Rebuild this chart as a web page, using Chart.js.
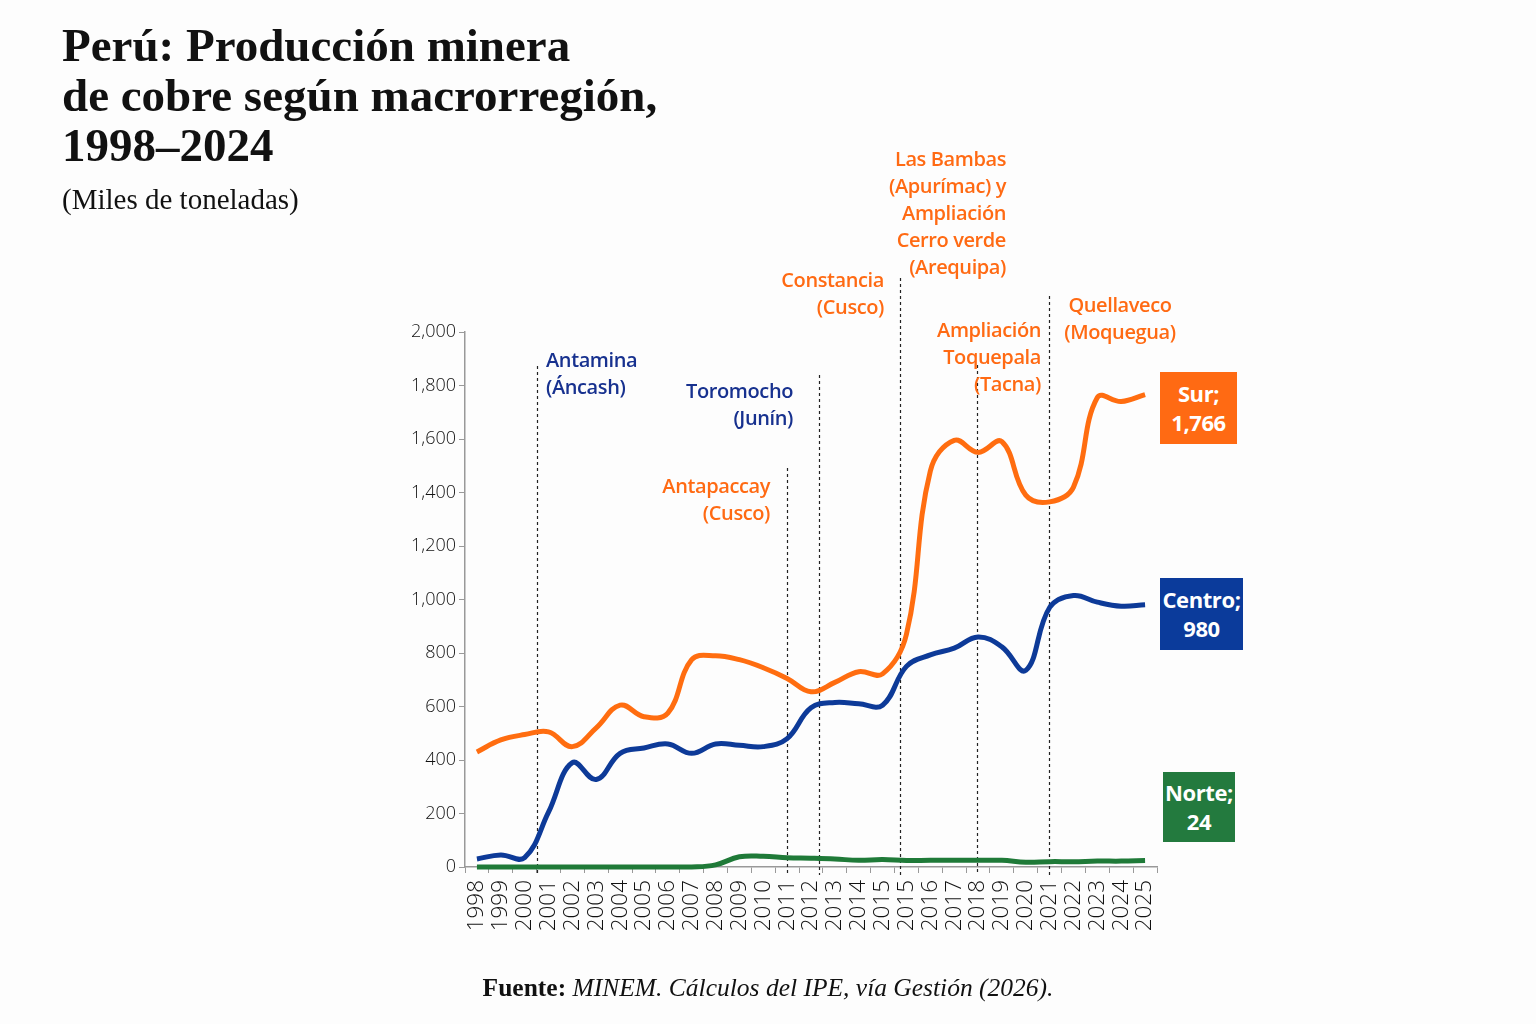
<!DOCTYPE html>
<html>

<head>
    <title>Perú: Producción minera de cobre según macrorregión</title>
    <meta charset="utf-8">
    <script src="https://cdn.jsdelivr.net/npm/chart.js@4.4.1/dist/chart.umd.min.js"></script>
    <style>
        html, body { margin: 0; padding: 0; background: #fdfdfd; }
        #page { position: relative; width: 1536px; height: 1024px; overflow: hidden; }
        #chart { position: absolute; left: 0; top: 0; }
        .title { position: absolute; left: 62px; top: 20px; font-family: "Liberation Serif", serif; font-weight: bold; font-size: 47px; line-height: 50px; color: #111; }
        .subtitle { position: absolute; left: 62px; top: 183px; font-family: "Liberation Serif", serif; font-size: 29px; color: #111; }
        .source { position: absolute; left: 0; width: 1536px; top: 973px; text-align: center; font-family: "Liberation Serif", serif; font-size: 25.5px; color: #111; }
        .note { position: absolute; font-family: "Open Sans", sans-serif; font-weight: 600; font-size: 20px; line-height: 27px; white-space: nowrap; letter-spacing: -0.4px; }
        .orange { color: #ff6a13; }
        .blue { color: #17318f; }
        .tag { position: absolute; color: #fff; font-family: "Open Sans", sans-serif; font-weight: 700; font-size: 22px; line-height: 29px; text-align: center; display: flex; align-items: center; justify-content: center; letter-spacing: -0.4px; }
    </style>
</head>

<body>
    <div id="page">
        <canvas id="chart" width="1536" height="1024"></canvas>

        <div class="title">Perú: Producción minera<br>de cobre según macrorregión,<br>1998–2024</div>
        <div class="subtitle">(Miles de toneladas)</div>

        <div class="note blue" style="left:546px; top:346px;">Antamina<br>(Áncash)</div>
        <div class="note blue" style="right:743px; top:377px; text-align:right;">Toromocho<br>(Junín)</div>
        <div class="note orange" style="right:766px; top:472px; text-align:right;">Antapaccay<br>(Cusco)</div>
        <div class="note orange" style="right:652px; top:266px; text-align:right;">Constancia<br>(Cusco)</div>
        <div class="note orange" style="right:530px; top:145px; text-align:right;">Las Bambas<br>(Apurímac) y<br>Ampliación<br>Cerro verde<br>(Arequipa)</div>
        <div class="note orange" style="right:495px; top:316px; text-align:right;">Ampliación<br>Toquepala<br>(Tacna)</div>
        <div class="note orange" style="left:1060px; width:120px; top:291px; text-align:center;">Quellaveco<br>(Moquegua)</div>

        <div class="tag" style="left:1160px; top:372px; width:77px; height:72px; background:#ff6a13;">Sur;<br>1,766</div>
        <div class="tag" style="left:1160px; top:578px; width:83px; height:72px; background:#0b3b9b;">Centro;<br>980</div>
        <div class="tag" style="left:1163px; top:772px; width:72px; height:70px; background:#237a3e;">Norte;<br>24</div>

        <div class="source"><b>Fuente:</b> <i>MINEM. Cálculos del IPE, vía Gestión (2026).</i></div>
    </div>

    <script>
        // categorias (el eje original repite 2015)
        const years = ['1998', '1999', '2000', '2001', '2002', '2003', '2004', '2005', '2006', '2007',
            '2008', '2009', '2010', '2011', '2012', '2013', '2014', '2015', '2015', '2016',
            '2017', '2018', '2019', '2020', '2021', '2022', '2023', '2024', '2025'];

        const sur = [430, 475, 495, 505, 450, 520, 605, 562, 575, 775,
            790, 775, 745, 705, 655, 690, 730, 722, 870, 1480,
            1595, 1550, 1590, 1390, 1365, 1420, 1755, 1740, 1766];

        const centro = [30, 45, 35, 205, 390, 327, 425, 445, 460, 425,
            460, 455, 450, 480, 595, 615, 610, 605, 750, 793,
            818, 860, 823, 735, 970, 1015, 990, 975, 980];

        const norte = [0, 0, 0, 0, 0, 0, 0, 0, 0, 0,
            8, 38, 40, 35, 33, 30, 25, 28, 24, 25,
            25, 25, 25, 18, 20, 20, 22, 22, 24];

        const yTicks = [0, 200, 400, 600, 800, 1000, 1200, 1400, 1600, 1800, 2000];

        // lineas punteadas: posicion (indice de categoria) y altura superior en px
        const markerPos = [2.52, 13.0, 14.34, 17.73, 20.95, 23.98];
        const markerTop = [366, 468, 375, 278, 365, 296];

        const markerPlugin = {
            id: 'markers',
            beforeDatasetsDraw(chart) {
                const ctx = chart.ctx;
                const xs = chart.scales.x;
                const bottom = chart.chartArea.bottom + 8;
                ctx.save();
                ctx.strokeStyle = '#222';
                ctx.lineWidth = 1.2;
                ctx.setLineDash([3, 3]);
                for (let i = 0; i < markerPos.length; i++) {
                    const x = Math.round(xs.getPixelForValue(markerPos[i])) + 0.5;
                    ctx.beginPath();
                    ctx.moveTo(x, markerTop[i]);
                    ctx.lineTo(x, bottom);
                    ctx.stroke();
                }
                ctx.restore();
            }
        };

        function makeSet(label, data, color) {
            return {
                label: label,
                data: data,
                borderColor: color,
                backgroundColor: color,
                borderWidth: 5,
                pointRadius: 0,
                tension: 0.4,
                fill: false,
                clip: false
            };
        }

        Chart.defaults.font.family = '"Open Sans", sans-serif';

        new Chart(document.getElementById('chart'), {
            type: 'line',
            data: {
                labels: years,
                datasets: [
                    makeSet('Norte', norte, '#1f7a38'),
                    makeSet('Centro', centro, '#0d3a98'),
                    makeSet('Sur', sur, '#ff6d10')
                ]
            },
            options: {
                responsive: false,
                animation: false,
                layout: { padding: { left: 405, top: 332, right: 379, bottom: 77 } },
                plugins: {
                    legend: { display: false },
                    tooltip: { enabled: false }
                },
                scales: {
                    x: {
                        offset: true,
                        grid: { display: true, offset: true, drawOnChartArea: false, drawTicks: true, tickLength: 6, color: '#999' },
                        border: { display: true, color: '#999', width: 1.5 },
                        ticks: {
                            autoSkip: false, minRotation: 90, maxRotation: 90, padding: 7,
                            color: '#111', font: { size: 22.5, weight: 300 }
                        },
                        afterFit(axis) { axis.height = 80; }
                    },
                    y: {
                        min: 0, max: 2000,
                        afterBuildTicks(axis) { axis.ticks = yTicks.map(v => ({ value: v })); },
                        grid: { display: true, drawOnChartArea: false, drawTicks: true, tickLength: 6, color: '#999' },
                        border: { display: true, color: '#999', width: 1.5 },
                        ticks: {
                            padding: 3, color: '#111', font: { size: 18, weight: 300 },
                            callback: v => v.toLocaleString('en-US')
                        },
                        afterFit(axis) { axis.width = 60; }
                    }
                }
            },
            plugins: [markerPlugin]
        });
    </script>
</body>

</html>
